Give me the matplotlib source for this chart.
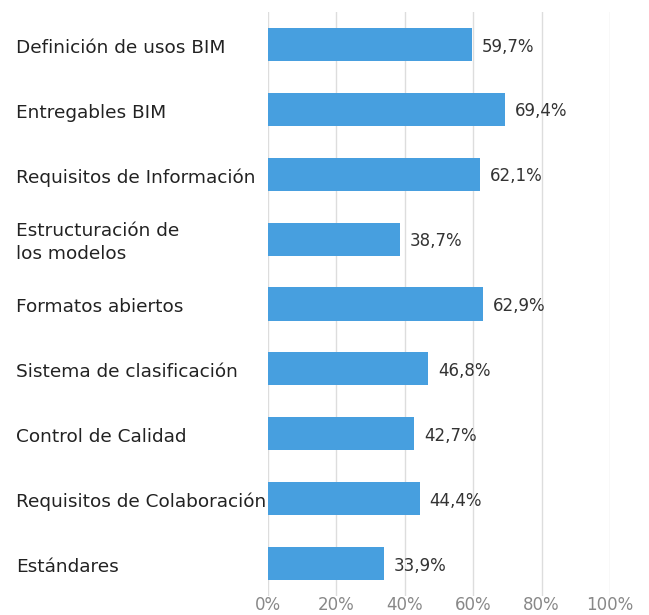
import matplotlib
matplotlib.use("Agg")
import matplotlib.pyplot as plt
from matplotlib.transforms import ScaledTranslation

categories = [
    "Definición de usos BIM",
    "Entregables BIM",
    "Requisitos de Información",
    "Estructuración de\nlos modelos",
    "Formatos abiertos",
    "Sistema de clasificación",
    "Control de Calidad",
    "Requisitos de Colaboración",
    "Estándares",
]
values = [59.7, 69.4, 62.1, 38.7, 62.9, 46.8, 42.7, 44.4, 33.9]
xticks = [0, 20, 40, 60, 80, 100]
xtick_labels = ["0%", "20%", "40%", "60%", "80%", "100%"]

plt.rcParams['font.family'] = ['DejaVu Sans']

fig = plt.figure(figsize=(6.49, 6.15), dpi=100)
ax = fig.add_axes([268/649, 1-596/615, (610-268)/649, (596-12)/615])

ypos = list(range(len(categories)))
ax.barh(ypos, values, height=0.51, color="#479FDF", zorder=3)
for y, v in zip(ypos, values):
    ax.annotate(f"{v:.1f}%".replace(".", ","), (v, y), xytext=(7, -1.5),
                textcoords="offset points", va="center", ha="left",
                fontsize=12, color="#333333")

ax.set_xlim(0, 100)
ax.set_ylim(len(categories) - 0.5, -0.5)
ax.set_xticks(xticks)
ax.set_xticklabels(xtick_labels, fontsize=12, color="#888888")
ax.set_yticks(ypos)
ax.set_yticklabels(categories, fontsize=13.3, color="#222222", linespacing=1.35)
for lab in ax.get_yticklabels():
    lab.set_ha("left")
    lab.set_va("center")
ax.tick_params(axis="y", length=0, pad=(268-16)*0.72)
ax.tick_params(axis="x", length=0, pad=0)
ax.grid(axis="x", color="#dddddd", linewidth=1, zorder=0)
for s in ax.spines.values():
    s.set_visible(False)

for t in ax.yaxis.get_major_ticks():
    t.label1.set_transform(t.label1.get_transform() + ScaledTranslation(0, -2.5/72, fig.dpi_scale_trans))

fig.savefig("out.png", dpi=100)
